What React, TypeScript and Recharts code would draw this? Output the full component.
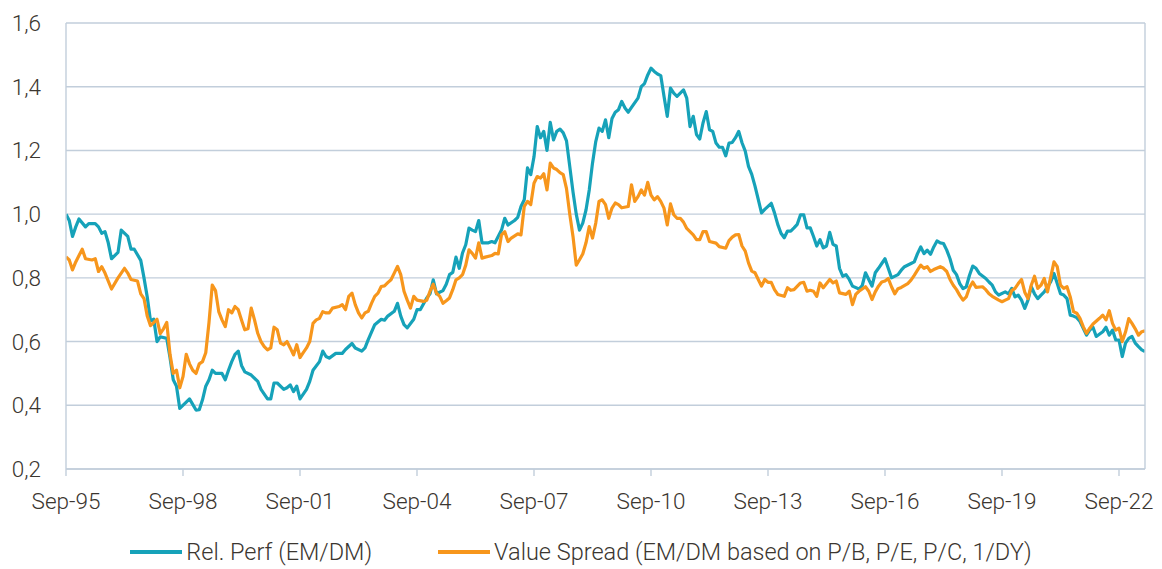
import { LineChart, Line, XAxis, YAxis, CartesianGrid } from 'recharts';

// x = months since Sep-95
const TICK_MONTHS = [0, 36, 72, 108, 144, 180, 216, 252, 288, 324];
const TICK_LABELS = ['Sep-95', 'Sep-98', 'Sep-01', 'Sep-04', 'Sep-07', 'Sep-10', 'Sep-13', 'Sep-16', 'Sep-19', 'Sep-22'];
const Y_TICKS = [0.2, 0.4, 0.6, 0.8, 1.0, 1.2, 1.4, 1.6];

const SERIES_NAMES = ['Rel. Perf (EM/DM)', 'Value Spread (EM/DM based on P/B, P/E, P/C, 1/DY)'];

// [month, value]
const relPerf: [number, number][] = [
  [0, 1.0], [1, 0.98], [2, 0.93], [3, 0.96], [4, 0.985], [6, 0.96], [7, 0.97], [9, 0.97], [10, 0.96],
  [11, 0.94], [12, 0.945], [13, 0.91], [14, 0.86], [16, 0.88], [17, 0.95], [19, 0.93], [20, 0.89],
  [21, 0.89], [23, 0.855], [24, 0.8], [25, 0.74], [26, 0.665], [27, 0.67], [28, 0.6], [29, 0.615],
  [31, 0.61], [32, 0.55], [33, 0.48], [34, 0.46], [35, 0.39], [37, 0.41], [38, 0.42], [40, 0.385],
  [41, 0.386], [42, 0.417], [43, 0.46], [44, 0.48], [45, 0.51], [46, 0.5], [48, 0.5], [49, 0.48],
  [50, 0.51], [51, 0.537], [52, 0.56], [53, 0.57], [54, 0.525], [55, 0.505], [57, 0.495], [59, 0.475],
  [60, 0.45], [62, 0.42], [63, 0.42], [64, 0.47], [65, 0.47], [67, 0.45], [68, 0.455], [69, 0.464],
  [70, 0.443], [71, 0.46], [72, 0.42], [74, 0.45], [75, 0.475], [76, 0.51], [78, 0.537], [79, 0.57],
  [80, 0.553], [81, 0.548], [83, 0.563], [85, 0.563], [86, 0.575], [88, 0.594], [89, 0.58], [91, 0.57],
  [92, 0.58], [93, 0.606], [95, 0.653], [97, 0.67], [98, 0.667], [99, 0.68], [101, 0.695], [102, 0.72],
  [103, 0.68], [104, 0.653], [105, 0.643], [107, 0.67], [108, 0.7], [109, 0.7], [111, 0.737], [112, 0.75],
  [113, 0.794], [114, 0.75], [116, 0.76], [117, 0.78], [118, 0.81], [119, 0.817], [120, 0.865], [121, 0.83],
  [122, 0.878], [123, 0.904], [124, 0.956], [125, 0.95], [126, 0.945], [127, 0.98], [128, 0.91], [130, 0.91],
  [131, 0.914], [132, 0.91], [134, 0.95], [135, 0.987], [136, 0.966], [138, 0.98], [139, 0.99], [140, 1.024],
  [141, 1.045], [142, 1.145], [143, 1.124], [144, 1.18], [145, 1.275], [146, 1.24], [147, 1.26], [148, 1.2],
  [149, 1.288], [150, 1.233], [151, 1.26], [152, 1.267], [153, 1.255], [154, 1.23], [155, 1.15], [156, 1.07],
  [157, 1.0], [158, 0.95], [159, 0.972], [160, 1.013], [161, 1.076], [162, 1.16], [163, 1.228], [164, 1.27],
  [165, 1.26], [166, 1.296], [167, 1.24], [168, 1.3], [169, 1.32], [170, 1.328], [171, 1.354], [172, 1.333],
  [173, 1.32], [174, 1.335], [176, 1.364], [177, 1.4], [178, 1.41], [179, 1.437], [180, 1.458], [181, 1.448],
  [182, 1.44], [183, 1.435], [184, 1.37], [185, 1.307], [186, 1.396], [187, 1.38], [188, 1.37], [190, 1.39],
  [191, 1.364], [192, 1.275], [193, 1.307], [194, 1.25], [195, 1.236], [196, 1.286], [197, 1.322], [198, 1.265],
  [199, 1.26], [200, 1.223], [201, 1.21], [202, 1.21], [203, 1.183], [204, 1.223], [205, 1.225], [206, 1.24],
  [207, 1.26], [208, 1.224], [209, 1.198], [210, 1.15], [211, 1.125], [212, 1.088], [213, 1.046], [214, 1.004],
  [215, 1.015], [217, 1.034], [218, 1.004], [219, 0.968], [220, 0.94], [221, 0.926], [222, 0.947], [223, 0.947],
  [224, 0.957], [225, 0.968], [226, 0.998], [227, 0.998], [228, 0.957], [229, 0.957], [230, 0.93], [231, 0.9],
  [232, 0.92], [233, 0.894], [234, 0.9], [235, 0.943], [236, 0.905], [237, 0.9], [238, 0.83], [239, 0.805],
  [240, 0.81], [241, 0.795], [242, 0.774], [244, 0.765], [245, 0.776], [246, 0.816], [247, 0.795], [248, 0.774],
  [249, 0.816], [250, 0.83], [251, 0.845], [252, 0.86], [253, 0.83], [254, 0.8], [256, 0.81], [257, 0.824],
  [258, 0.835], [260, 0.845], [261, 0.85], [262, 0.876], [263, 0.897], [264, 0.876], [265, 0.887], [266, 0.874],
  [267, 0.897], [268, 0.916], [269, 0.91], [270, 0.908], [271, 0.887], [272, 0.86], [273, 0.824], [274, 0.81],
  [275, 0.782], [276, 0.766], [277, 0.772], [278, 0.808], [279, 0.837], [280, 0.83], [281, 0.814], [283, 0.798],
  [284, 0.787], [285, 0.777], [286, 0.756], [287, 0.746], [289, 0.756], [290, 0.75], [291, 0.767], [292, 0.74],
  [293, 0.746], [294, 0.73], [295, 0.704], [296, 0.73], [297, 0.772], [298, 0.75], [299, 0.735], [300, 0.746],
  [301, 0.756], [302, 0.772], [303, 0.788], [304, 0.814], [305, 0.782], [306, 0.75], [307, 0.746], [308, 0.735],
  [309, 0.683], [310, 0.68], [311, 0.675], [312, 0.663], [313, 0.642], [314, 0.62], [315, 0.636], [316, 0.645],
  [317, 0.616], [319, 0.631], [320, 0.645], [321, 0.62], [322, 0.636], [323, 0.605], [324, 0.605], [325, 0.553],
  [326, 0.595], [327, 0.61], [328, 0.616], [329, 0.595], [330, 0.584], [331, 0.574], [332, 0.569],
];

const valueSpread: [number, number][] = [
  [0, 0.866], [1, 0.856], [2, 0.825], [3, 0.85], [4, 0.87], [5, 0.89], [6, 0.86], [8, 0.856], [9, 0.86],
  [10, 0.82], [11, 0.835], [12, 0.815], [14, 0.765], [16, 0.8], [18, 0.83], [19, 0.815], [20, 0.795],
  [22, 0.79], [23, 0.75], [24, 0.735], [25, 0.68], [26, 0.65], [28, 0.67], [29, 0.625], [30, 0.64],
  [31, 0.66], [32, 0.56], [33, 0.5], [34, 0.51], [35, 0.455], [36, 0.49], [37, 0.56], [38, 0.53],
  [39, 0.51], [40, 0.5], [41, 0.53], [42, 0.537], [43, 0.565], [44, 0.66], [45, 0.777], [46, 0.76],
  [47, 0.694], [48, 0.668], [49, 0.647], [50, 0.7], [51, 0.69], [52, 0.71], [53, 0.7], [54, 0.668],
  [55, 0.637], [56, 0.64], [57, 0.705], [58, 0.668], [59, 0.626], [60, 0.6], [61, 0.584], [62, 0.574],
  [63, 0.58], [64, 0.645], [65, 0.637], [66, 0.595], [67, 0.59], [68, 0.6], [69, 0.58], [70, 0.558],
  [71, 0.59], [72, 0.55], [73, 0.565], [74, 0.58], [75, 0.6], [76, 0.657], [77, 0.668], [78, 0.673],
  [79, 0.694], [80, 0.69], [81, 0.69], [82, 0.705], [84, 0.71], [85, 0.716], [86, 0.7], [87, 0.742],
  [88, 0.752], [89, 0.716], [90, 0.69], [91, 0.674], [92, 0.69], [93, 0.695], [94, 0.72], [95, 0.742],
  [96, 0.752], [97, 0.773], [98, 0.775], [99, 0.785], [100, 0.794], [101, 0.815], [102, 0.836], [103, 0.81],
  [104, 0.758], [105, 0.73], [106, 0.705], [107, 0.742], [108, 0.73], [110, 0.726], [111, 0.73], [112, 0.758],
  [113, 0.78], [114, 0.752], [115, 0.742], [116, 0.72], [117, 0.728], [118, 0.737], [119, 0.763], [120, 0.794],
  [121, 0.8], [122, 0.81], [123, 0.84], [124, 0.888], [125, 0.877], [126, 0.862], [127, 0.91], [128, 0.862],
  [129, 0.865], [131, 0.87], [132, 0.877], [133, 0.875], [134, 0.935], [135, 0.945], [136, 0.914], [137, 0.925],
  [139, 0.938], [140, 0.935], [141, 1.024], [142, 1.04], [143, 1.03], [144, 1.097], [145, 1.118], [146, 1.113],
  [147, 1.127], [148, 1.076], [149, 1.16], [150, 1.145], [151, 1.14], [152, 1.13], [153, 1.124], [154, 1.08],
  [155, 1.0], [156, 0.93], [157, 0.84], [158, 0.857], [159, 0.875], [160, 0.91], [161, 0.961], [162, 0.925],
  [163, 0.972], [164, 1.04], [165, 1.045], [166, 1.03], [167, 0.987], [168, 1.019], [169, 1.035], [170, 1.03],
  [171, 1.02], [173, 1.024], [174, 1.092], [175, 1.04], [176, 1.055], [177, 1.076], [178, 1.06], [179, 1.1],
  [180, 1.06], [181, 1.045], [182, 1.055], [183, 1.04], [184, 1.019], [185, 0.966], [186, 1.032], [187, 0.998],
  [188, 0.987], [189, 0.987], [190, 0.975], [191, 0.955], [192, 0.945], [193, 0.935], [194, 0.92], [195, 0.92],
  [196, 0.945], [197, 0.945], [198, 0.914], [200, 0.909], [201, 0.898], [203, 0.893], [204, 0.917], [205, 0.928],
  [206, 0.935], [207, 0.936], [208, 0.9], [209, 0.884], [210, 0.847], [211, 0.821], [212, 0.816], [213, 0.795],
  [214, 0.774], [215, 0.795], [216, 0.786], [217, 0.786], [218, 0.763], [219, 0.748], [221, 0.742], [222, 0.769],
  [223, 0.761], [224, 0.763], [226, 0.784], [227, 0.786], [228, 0.758], [229, 0.761], [230, 0.758], [231, 0.742],
  [232, 0.784], [233, 0.769], [235, 0.795], [236, 0.784], [237, 0.79], [238, 0.753], [240, 0.748], [241, 0.758],
  [242, 0.716], [243, 0.748], [244, 0.758], [246, 0.772], [247, 0.758], [248, 0.732], [249, 0.756], [250, 0.774],
  [251, 0.787], [252, 0.79], [253, 0.798], [254, 0.772], [255, 0.75], [256, 0.766], [257, 0.77], [259, 0.782],
  [260, 0.793], [261, 0.808], [262, 0.824], [263, 0.84], [264, 0.83], [265, 0.835], [266, 0.82], [267, 0.826],
  [269, 0.835], [270, 0.83], [271, 0.82], [272, 0.795], [273, 0.777], [274, 0.763], [275, 0.745], [276, 0.73],
  [277, 0.74], [278, 0.77], [279, 0.787], [280, 0.77], [282, 0.772], [283, 0.763], [284, 0.75], [285, 0.742],
  [287, 0.73], [288, 0.725], [289, 0.73], [290, 0.735], [291, 0.76], [292, 0.767], [293, 0.782], [294, 0.795],
  [295, 0.755], [296, 0.735], [297, 0.777], [298, 0.805], [299, 0.767], [300, 0.777], [301, 0.798], [302, 0.756],
  [303, 0.803], [304, 0.85], [305, 0.835], [306, 0.777], [307, 0.767], [308, 0.772], [309, 0.74], [310, 0.694],
  [311, 0.689], [312, 0.673], [313, 0.647], [314, 0.626], [315, 0.642], [316, 0.655], [318, 0.673], [319, 0.683],
  [320, 0.668], [321, 0.697], [322, 0.657], [323, 0.636], [324, 0.642], [325, 0.6], [326, 0.63], [327, 0.672],
  [328, 0.657], [329, 0.64], [330, 0.62], [331, 0.631], [332, 0.634],
];

const BLUE = '#16a2b9';
const ORANGE = '#f7961c';
const GRID = '#c2cedb';
const TEXT = '#3b3630';
const FONT = 'Roboto, sans-serif';
const FONT_SIZE = 22.5;
const LEGEND_FONT_SIZE = 23.5;

const toRows = (pts: [number, number][]) => pts.map(([m, v]) => ({ m, v }));

export default function App() {
  const colors = [BLUE, ORANGE];
  const tickStyle = { fill: TEXT, fontSize: FONT_SIZE, fontFamily: FONT, fontWeight: 300 };
  return (
    <div style={{ position: 'absolute', left: 0, top: 0, width: 1162, height: 569, background: '#fff', fontFamily: FONT }}>
      <LineChart width={1162} height={569} margin={{ top: 23, right: 0, bottom: 50, left: 0 }}>
        <CartesianGrid horizontal vertical={false} stroke={GRID} strokeWidth={1.4} />
        <XAxis
          dataKey="m"
          type="number"
          domain={[0, 332]}
          ticks={TICK_MONTHS}
          tickFormatter={(m) => TICK_LABELS[TICK_MONTHS.indexOf(m)] ?? ''}
          height={50}
          tickSize={7}
          tickMargin={17}
          axisLine={{ stroke: GRID, strokeWidth: 1.4 }}
          tickLine={{ stroke: GRID, strokeWidth: 1.4 }}
          tick={tickStyle}
          interval={0}
          allowDataOverflow
        />
        <YAxis
          type="number"
          domain={[0.2, 1.6]}
          ticks={Y_TICKS}
          tickFormatter={(v) => v.toFixed(1).replace('.', ',')}
          width={66}
          tickSize={0}
          tickMargin={25}
          axisLine={{ stroke: GRID, strokeWidth: 1.4 }}
          tickLine={false}
          tick={tickStyle}
          interval={0}
          allowDataOverflow
        />
        <YAxis
          yAxisId="right"
          orientation="right"
          domain={[0, 1]}
          width={17}
          tick={false}
          tickLine={false}
          axisLine={{ stroke: GRID, strokeWidth: 1.4 }}
        />
        <Line
          data={toRows(relPerf)}
          dataKey="v"
          name={SERIES_NAMES[0]}
          type="linear"
          stroke={BLUE}
          strokeWidth={3.2}
          strokeLinejoin="round"
          dot={false}
          isAnimationActive={false}
        />
        <Line
          data={toRows(valueSpread)}
          dataKey="v"
          name={SERIES_NAMES[1]}
          type="linear"
          stroke={ORANGE}
          strokeWidth={3.2}
          strokeLinejoin="round"
          dot={false}
          isAnimationActive={false}
        />
      </LineChart>
      <div
        style={{
          position: 'absolute',
          top: 538,
          left: 0,
          width: 1162,
          height: 28,
          display: 'flex',
          justifyContent: 'center',
          alignItems: 'center',
          gap: 66,
          fontSize: LEGEND_FONT_SIZE,
          fontWeight: 300,
          color: TEXT,
        }}
      >
        {SERIES_NAMES.map((name, i) => (
          <div key={name} style={{ display: 'flex', alignItems: 'center' }}>
            <span style={{ display: 'inline-block', width: 52, height: 4, background: colors[i], marginRight: 4 }} />
            <span>{name}</span>
          </div>
        ))}
      </div>
    </div>
  );
}
